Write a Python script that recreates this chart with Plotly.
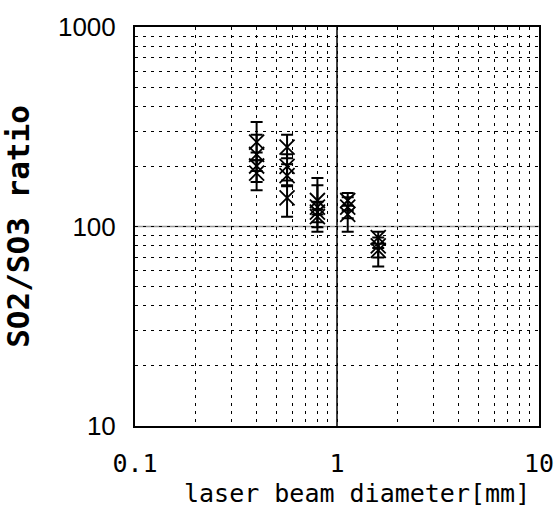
import plotly.graph_objects as go

# Data
diam = [0.4, 0.4, 0.4, 0.4,
        0.566, 0.566, 0.566, 0.566,
        0.8, 0.8, 0.8, 0.8,
        1.13, 1.13, 1.13,
        1.6, 1.6, 1.6]
ratio = [265, 230, 201, 185,
         250, 200, 180, 139,
         135, 125, 118, 112,
         135, 125, 115,
         88, 80, 76]
err_plus = [69, 58, 34, 30,
            38, 30, 25, 20,
            40, 36, 15, 10,
            12, 15, 12,
            6, 8, 6]
err_minus = [50, 40, 34, 33,
             30, 30, 19, 27,
             20, 20, 24, 13,
             15, 15, 21,
             10, 10, 13]

x_grid = [m * 10 ** e for e in (-1, 0) for m in range(1, 10)] + [10]
x_text = ["0.1" if v == 0.1 else "1" if v == 1 else "10" if v == 10 else "" for v in x_grid]
y_grid = [m * 10 ** e for e in (1, 2) for m in range(1, 10)] + [1000]
y_text = ["10" if v == 10 else "100" if v == 100 else "1000" if v == 1000 else "" for v in y_grid]

fig = go.Figure()
fig.add_trace(go.Scatter(
    x=diam, y=ratio, mode="markers",
    marker=dict(symbol="x-thin", size=15, color="black", line=dict(color="black", width=1.8)),
    error_y=dict(type="data", symmetric=False, array=err_plus, arrayminus=err_minus,
                 color="black", thickness=2, width=6),
    showlegend=False,
))

# decade reference lines
fig.add_shape(type="line", xref="x", yref="paper", x0=1, x1=1, y0=0, y1=1,
              line=dict(color="black", width=1.5), layer="below")
fig.add_shape(type="line", xref="paper", yref="y", x0=0, x1=1, y0=100, y1=100,
              line=dict(color="#999999", width=1.5), layer="below")

grid_style = dict(showgrid=True, gridcolor="black", gridwidth=1, griddash="3px,5px")

fig.update_xaxes(type="log", range=[-1, 1], tickmode="array", tickvals=x_grid, ticktext=x_text,
                 showline=True, linecolor="black", linewidth=2, mirror=True,
                 ticks="outside", ticklen=14, tickcolor="rgba(0,0,0,0)",
                 ticklabeloverflow="allow",
                 tickfont=dict(family="DejaVu Sans Mono", size=25, color="black"),
                 zeroline=False, automargin=False, **grid_style)
fig.update_yaxes(type="log", range=[1, 3], tickmode="array", tickvals=y_grid, ticktext=y_text,
                 showline=True, linecolor="black", linewidth=2, mirror=True,
                 ticks="outside", ticklen=12, tickcolor="rgba(0,0,0,0)",
                 ticklabeloverflow="allow",
                 tickfont=dict(family="Liberation Sans", size=26, color="black"),
                 title=dict(text="<b>SO2/SO3 ratio</b>", standoff=20,
                            font=dict(family="DejaVu Sans Mono", size=31, color="black")),
                 zeroline=False, automargin=False, **grid_style)

fig.add_annotation(text="laser beam diameter[mm]", xref="paper", yref="paper",
                   x=0.55, y=-0.168, xanchor="center", yanchor="middle", showarrow=False,
                   font=dict(family="DejaVu Sans Mono", size=25, color="black"))

fig.update_layout(width=556, height=510,
                  margin=dict(l=135, r=17, t=27, b=84),
                  paper_bgcolor="white", plot_bgcolor="white")

fig.write_html("out.html")
